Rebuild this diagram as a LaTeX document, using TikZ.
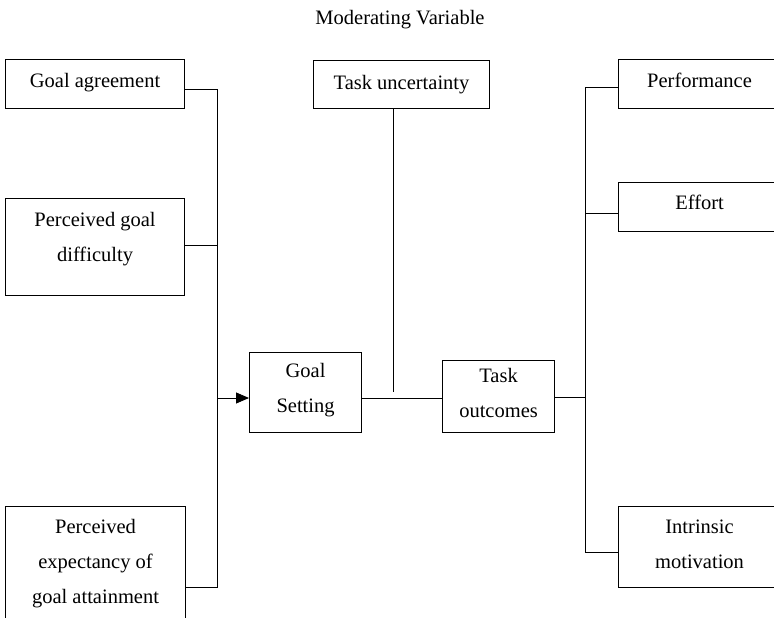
\documentclass[tikz,border=0pt]{standalone}
\usepackage{fontspec}
\setmainfont{Liberation Serif}
\usetikzlibrary{arrows.meta}
\begin{document}
\begin{tikzpicture}[x=1pt,y=-1pt,
  box/.style={draw, line width=1.1pt, inner sep=0pt, anchor=north west},
  txt/.style={align=center, inner sep=0pt, font=\fontsize{20.5}{35}\selectfont},
  link/.style={line width=0.9pt},
  lbl/.style={font=\fontsize{20.5}{35}\selectfont}]
\useasboundingbox (0,0) rectangle (774,618);
\clip (0,0) rectangle (774,618);

% heading
\node[lbl] (mv) at (400,20) {Moderating Variable};

% antecedents
\node[box, minimum width=179pt, minimum height=49pt,
  label={[txt, yshift=1pt]center:Goal agreement}] (ga) at (5,59) {};
\node[box, minimum width=179pt, minimum height=97pt,
  label={[txt, yshift=8pt]center:Perceived goal\\difficulty}] (pgd) at (5,198) {};
\node[box, minimum width=180pt, minimum height=118pt,
  label={[txt, yshift=2pt]center:Perceived\\expectancy of\\goal attainment}] (pe) at (5,506) {};

% core chain
\node[box, minimum width=112pt, minimum height=80pt,
  label={[txt, yshift=2pt]center:Goal\\Setting}] (gs) at (249,352) {};
\node[box, minimum width=112pt, minimum height=72pt,
  label={[txt, yshift=4pt]center:Task\\outcomes}] (to) at (442,360) {};
\node[box, minimum width=176pt, minimum height=48pt,
  label={[txt]center:Task uncertainty}] (tu) at (313,60) {};

% outcomes
\node[box, minimum width=162pt, minimum height=49pt,
  label={[txt, yshift=4pt]center:Performance}] (pf) at (618,59) {};
\node[box, minimum width=162pt, minimum height=49pt,
  label={[txt, yshift=5pt]center:Effort}] (ef) at (618,182) {};
\node[box, minimum width=162pt, minimum height=81pt,
  label={[txt, yshift=3pt]center:Intrinsic\\motivation}] (im) at (618,506) {};

% left bus
\coordinate (lga) at (217,89);
\coordinate (lpd) at (217,245);
\coordinate (lpe) at (217,587);
\coordinate (lb) at (217,398);
\draw[link] (lga -| ga.east) -- (lga) -- (lpe) -- (lpe -| pe.east);
\draw[link] (lpd -| pgd.east) -- (lpd);
\draw[link, -{Triangle[length=13pt,width=11pt]}] (lb) -- (lb -| gs.west);

% goal setting to task outcomes, with moderator
\draw[link] (gs.east |- lb) -- (to.west |- lb);
\coordinate (tuend) at (393,392);
\draw[link] (tuend |- tu.south) -- (tuend);

% right bus
\coordinate (rto) at (585,397);
\coordinate (rpf) at (585,87);
\coordinate (ref) at (585,213);
\coordinate (rim) at (585,552);
\draw[link] (rto -| to.east) -- (rto);
\draw[link] (rpf -| pf.west) -- (rpf) -- (rim) -- (rim -| im.west);
\draw[link] (ref -| ef.west) -- (ref);
\end{tikzpicture}
\end{document}
